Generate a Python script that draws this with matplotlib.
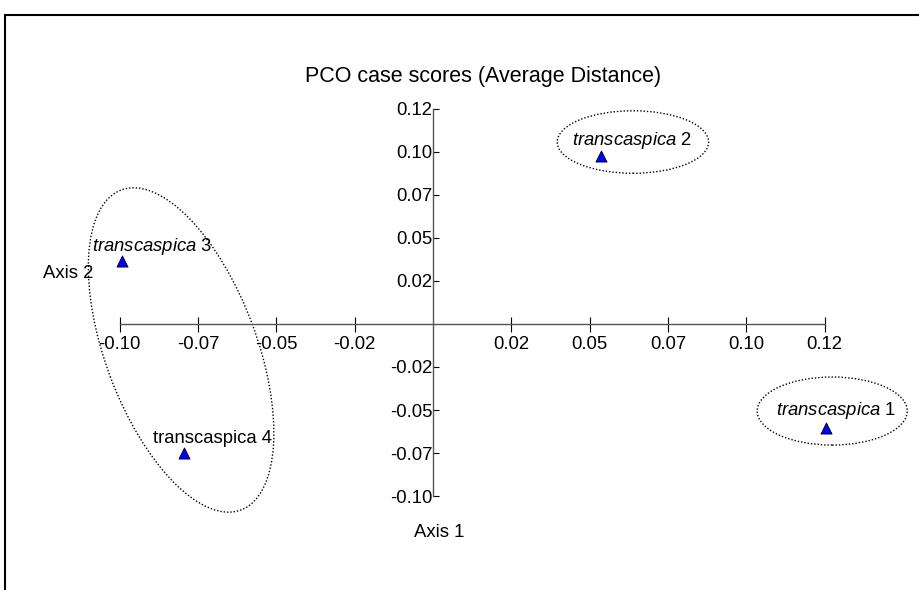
import matplotlib
matplotlib.use('Agg')
import matplotlib.pyplot as plt
import matplotlib.transforms as mtransforms
from matplotlib.patches import Ellipse, Rectangle

plt.rcParams['font.family'] = ['Liberation Sans', 'DejaVu Sans']
plt.rcParams['mathtext.fontset'] = 'custom'
plt.rcParams['mathtext.it'] = 'Liberation Sans:italic'
plt.rcParams['mathtext.rm'] = 'Liberation Sans'

# PCO case scores, axis 1 / axis 2
cases = ['1', '2', '3', '4']
axis1 = [0.1253, 0.0536, -0.0993, -0.0796]
axis2 = [-0.0602, 0.0977, 0.0368, -0.0748]
italic_name = [True, True, True, False]

ticks = [-0.1, -0.075, -0.05, -0.025, 0.025, 0.05, 0.075, 0.1, 0.125]
tick_labels = ['-0.10', '-0.07', '-0.05', '-0.02', '0.02', '0.05', '0.07', '0.10', '0.12']

# hand drawn groupings: centre (data), size in points, angle
groups_x = [0.1274, 0.0638, -0.0804]
groups_y = [-0.0506, 0.1058, -0.0151]
groups_w = [108, 109, 246]
groups_h = [49, 45, 109]
groups_angle = [0, 0, -69.5]

# label offsets in points from the marker
label_dx = [-35.5, -21, -21.5, -22]
label_dy = [9, 8, 7.3, 7.2]

fig = plt.figure(figsize=(9.19, 5.90), dpi=100)
ax = fig.add_axes([0, 0, 1, 1])
ax.set_xlim(-0.1382, 0.1551)
ax.set_ylim(-0.15465, 0.18837)
ax.patch.set_visible(False)

for s in ['top', 'right']:
    ax.spines[s].set_visible(False)
ax.spines['left'].set_position(('data', 0))
ax.spines['bottom'].set_position(('data', 0))
ax.spines['left'].set_bounds(-0.1, 0.125)
ax.spines['bottom'].set_bounds(-0.1, 0.125)
for s in ['left', 'bottom']:
    ax.spines[s].set_color('#555555')
    ax.spines[s].set_linewidth(1.0)

ax.set_xticks(ticks, tick_labels)
ax.set_yticks(ticks, tick_labels)
ax.tick_params(axis='x', direction='inout', length=10.8, width=0.8, pad=3.2,
               labelsize=13.3, colors='black')
ax.tick_params(axis='y', direction='in', length=4.5, width=0.8, pad=0.5,
               labelsize=13.3, colors='black')

ax.scatter(axis1, axis2, marker='^', s=64, c='#0000ff', edgecolors='black',
           linewidths=0.6, zorder=3, clip_on=False)

for i, name in enumerate(cases):
    if italic_name[i]:
        txt = r'$\mathit{transcaspica}$ ' + name
    else:
        txt = 'transcaspica ' + name
    ax.annotate(txt, (axis1[i], axis2[i]), xytext=(label_dx[i], label_dy[i]),
                textcoords='offset points', ha='left', va='baseline', fontsize=13.3)

pts = mtransforms.Affine2D().scale(1 / 72.0) + fig.dpi_scale_trans
for i in range(len(groups_x)):
    tr = pts + mtransforms.ScaledTranslation(groups_x[i], groups_y[i], ax.transData)
    e = Ellipse((0, 0), groups_w[i], groups_h[i], angle=groups_angle[i], transform=tr,
                fill=False, ec='black', lw=1.0, ls=(0, (1, 1.4)))
    ax.add_artist(e)

fig.text(483 / 919, 1 - 82 / 590, 'PCO case scores (Average Distance)', ha='center',
         va='baseline', fontsize=15.5)
fig.text(43 / 919, 1 - 278 / 590, 'Axis 2', ha='left', va='baseline', fontsize=13.3)
fig.text(414 / 919, 1 - 537 / 590, 'Axis 1', ha='left', va='baseline', fontsize=13.3)

frame = Rectangle((5, -20), 940, 595, transform=mtransforms.IdentityTransform(),
                  fill=False, ec='black', lw=1.5)
fig.patches.append(frame)

fig.savefig('out.png', dpi=100, facecolor='white')
